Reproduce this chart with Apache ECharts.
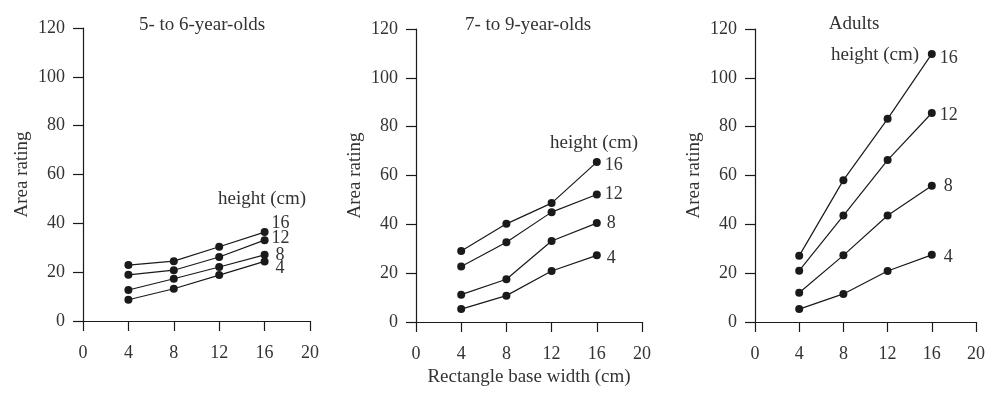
<!DOCTYPE html>
<html>
<head>
<meta charset="utf-8">
<script src="https://cdn.jsdelivr.net/npm/echarts@6/dist/echarts.min.js"></script>
<style>
  html, body { margin: 0; padding: 0; background: #fff; }
  #main { width: 988px; height: 402px; }
</style>
</head>
<body>
<div id="main"></div>
<script>
// base widths (cm) on the x axis
var widths = [4, 8, 12, 16];
var heights = ['16', '12', '8', '4'];
var panelTitles = ['5- to 6-year-olds', '7- to 9-year-olds', 'Adults'];

// area ratings, one array per rectangle height
var young16 = [22.9, 24.5, 30.4, 36.4];
var young12 = [18.9, 20.8, 26.2, 33.1];
var young8 = [12.7, 17.3, 22.1, 27.1];
var young4 = [8.7, 13.2, 18.8, 24.4];

var mid16 = [29.1, 40.2, 48.7, 65.5];
var mid12 = [22.7, 32.7, 45.0, 52.2];
var mid8 = [11.2, 17.5, 33.2, 40.5];
var mid4 = [5.3, 10.8, 20.9, 27.3];

var adult16 = [27.1, 58.1, 83.2, 109.8];
var adult12 = [21.0, 43.6, 66.3, 85.6];
var adult8 = [12.0, 27.3, 43.6, 55.8];
var adult4 = [5.3, 11.5, 20.9, 27.5];

var panels = [
    [young16, young12, young8, young4],
    [mid16, mid12, mid8, mid4],
    [adult16, adult12, adult8, adult4]
];

var font = '"Liberation Serif", "DejaVu Serif", serif';
var txt = '#333';
var ink = '#1a1a1a';

// grid boxes
var grids = [
    {left: 83, right: 678, top: 28, bottom: 81},
    {left: 416, right: 346, top: 29, bottom: 80},
    {left: 755, right: 7, top: 29, bottom: 80}
];

// offsets of the height labels at the end of each line
var endOffsets = [
    [[-1, -9], [-1, -2], [3, 0], [3, 7]],
    [[0, 3], [0, 0], [2, 0], [2, 3]],
    [[0, 4], [0, 2], [4, 1], [4, 2]]
];

var chart = echarts.init(document.getElementById('main'));

var xAxes = [], yAxes = [], series = [];
grids.forEach(function (g, i) {
    xAxes.push({
        type: 'value', gridIndex: i, min: 0, max: 20, interval: 4,
        name: i === 1 ? 'Rectangle base width (cm)' : '',
        nameLocation: 'middle', nameGap: 45,
        nameTextStyle: {fontFamily: font, fontSize: 19, color: txt},
        axisLine: {show: true, lineStyle: {color: ink, width: 1.2}},
        axisTick: {show: true, length: 10, lineStyle: {color: ink, width: 1.2}},
        axisLabel: {margin: 23, fontFamily: font, fontSize: 18, color: txt},
        splitLine: {show: false}
    });
    yAxes.push({
        type: 'value', gridIndex: i, min: 0, max: 120, interval: 20,
        name: 'Area rating', nameLocation: 'middle', nameGap: 51,
        nameTextStyle: {fontFamily: font, fontSize: 19, color: txt},
        axisLine: {show: true, lineStyle: {color: ink, width: 1.2}},
        axisTick: {show: true, length: 10, lineStyle: {color: ink, width: 1.2}},
        axisLabel: {margin: 18, fontFamily: font, fontSize: 18, color: txt},
        splitLine: {show: false}
    });
    panels[i].forEach(function (vals, k) {
        var data = vals.map(function (v, j) {
            var d = {value: [widths[j], v]};
            if (j === vals.length - 1) {
                d.label = {
                    show: true, position: 'right', distance: 4,
                    offset: endOffsets[i][k],
                    formatter: heights[k],
                    fontFamily: font, fontSize: 18, color: txt
                };
            }
            return d;
        });
        series.push({
            type: 'line', xAxisIndex: i, yAxisIndex: i,
            data: data, symbol: 'circle', symbolSize: 8,
            lineStyle: {color: ink, width: 1.2},
            itemStyle: {color: ink},
            animation: false
        });
    });
});

var titleStyle = {fontFamily: font, fontSize: 19, fontWeight: 'normal', color: txt};
var titles = [
    {text: panelTitles[0], left: 202, top: 16},
    {text: panelTitles[1], left: 528, top: 16},
    {text: panelTitles[2], left: 854, top: 15},
    {text: 'height (cm)', left: 262, top: 190},
    {text: 'height (cm)', left: 594, top: 134},
    {text: 'height (cm)', left: 875, top: 46}
].map(function (t) {
    return {text: t.text, left: t.left, top: t.top, textAlign: 'center', padding: 0, textStyle: titleStyle};
});

chart.setOption({
    backgroundColor: '#fff',
    animation: false,
    title: titles,
    grid: grids,
    xAxis: xAxes,
    yAxis: yAxes,
    series: series
});
</script>
</body>
</html>
